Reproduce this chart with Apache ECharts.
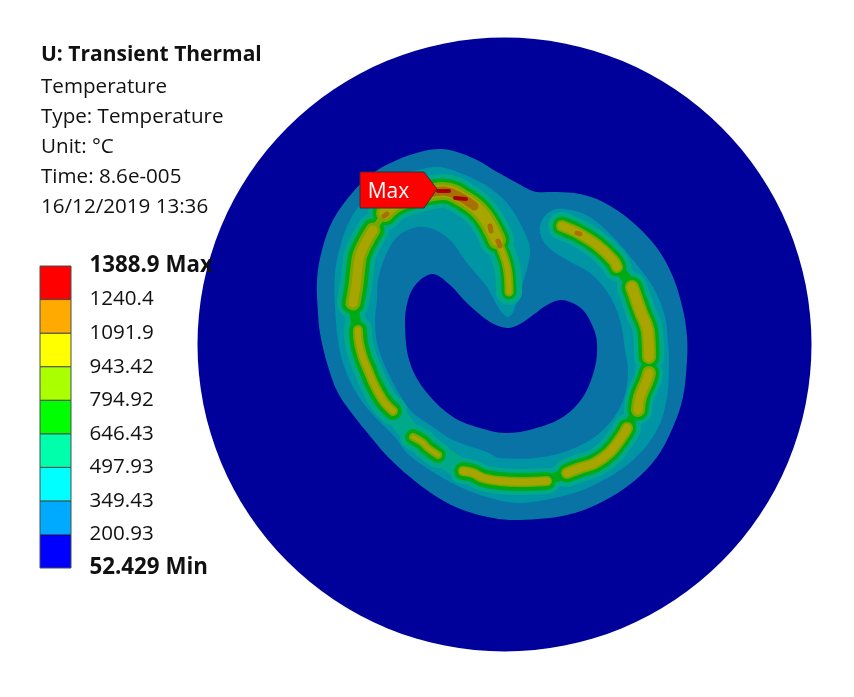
<!DOCTYPE html>
<html>
<head>
<meta charset="utf-8">
<style>html,body{margin:0;padding:0;background:#fff}#chart{width:854px;height:697px}</style>
<script src="https://cdn.jsdelivr.net/npm/echarts@6/dist/echarts.min.js"></script>
</head>
<body>
<div id="chart"></div>
<script>
// colour bar
const levels = [52.429, 200.93, 349.43, 497.93, 646.43, 794.92, 943.42, 1091.9, 1240.4, 1388.9];
const levelLabels = ['52.429 Min', '200.93', '349.43', '497.93', '646.43', '794.92', '943.42', '1091.9', '1240.4', '1388.9 Max'];
const barColors = ['#0000ff', '#00aaff', '#00ffff', '#00ffaa', '#00ff00', '#aaff00', '#ffff00', '#ffaa00', '#ff0000'];
// same scale as the bar, shaded the way the model is lit
const shaded = ['#00009b', '#0a73a6', '#0095a4', '#00a98a', '#00aa14', '#78a800', '#a8a500', '#a87000', '#a80000'];

const infoLines = ['Temperature', 'Type: Temperature', 'Unit: °C', 'Time: 8.6e-005', '16/12/2019 13:36'];

// plate: centre x, centre y, radius
const plate = [[504.5, 344.5, 307]];

// isotherm outlines (model plane units)
const iso200 = [[530,190],[517,183],[497,172],[477,160],[457,152],[440,149],[420,152],[397,160],[373,173],[353,192],[333,220],[322,250],[317,280],[318,313],[320,333],[327,363],[338,393],[357,420],[375,442],[388,457],[410,477],[437,497],[463,510],[493,518],[520,520],[567,515],[600,503],[633,482],[657,457],[673,427],[683,397],[687,360],[687,337],[683,310],[673,277],[657,248],[630,220],[603,202],[580,194],[557,192],[537,192]];
const iso200Hole = [[433,274],[417,283],[408,300],[405,325],[410,363],[427,393],[453,417],[480,428],[505,433],[533,429],[563,417],[583,397],[595,367],[597,343],[593,327],[583,310],[570,302],[560,300],[547,305],[533,315],[520,324],[507,328],[490,322],[467,303],[450,285]];
const iso349 = [[490,188],[480,182],[460,173],[440,167],[423,169],[395,177],[367,197],[350,220],[340,247],[335,273],[335,307],[338,340],[343,363],[353,387],[367,408],[383,425],[395,437],[407,453],[430,470],[460,487],[490,498],[520,503],[567,495],[600,482],[633,460],[657,430],[667,397],[669,360],[668,343],[665,317],[653,287],[633,260],[613,237],[590,217],[570,210],[553,210],[542,220],[540,233],[548,247],[567,260],[590,273],[608,293],[620,320],[625,350],[628,373],[622,403],[603,430],[577,447],[543,457],[500,458],[487,452],[453,440],[430,425],[413,413],[403,400],[390,377],[378,347],[375,320],[377,300],[378,280],[385,257],[397,237],[413,228],[430,228],[450,240],[467,263],[487,287],[498,307],[507,317],[512,314],[515,307],[523,283],[530,250],[522,227],[507,203]];

// hot strips along the weld track
const stripTip = [[509,292],[507,267],[497,240]];
const stripCrown = [[497,240],[483,215],[467,201],[443,191],[420,195],[397,203],[385,213]];
const stripWest = [[373,230],[367,240],[360,255],[358,267],[356,285],[353,303]];
const stripLeft = [[358,330],[359,343],[363,358],[368,370],[372,380],[378,392],[385,403],[393,411]];
const stripLower = [[413,437],[422,442],[428,448],[438,455]];
const stripBottom = [[463,471],[473,473],[483,478],[500,481],[520,482],[547,481]];
const stripSouth = [[567,473],[580,468],[595,463],[610,452],[623,435],[627,428]];
const stripEast = [[638,410],[640,397],[647,380],[649,373]];
const stripRight = [[649,357],[648,333],[640,310],[632,287]];
const stripNorth = [[617,267],[613,260],[597,245],[578,233],[562,226]];
const track = [stripTip, stripCrown, stripWest, stripLeft, stripLower, stripBottom, stripSouth, stripEast, stripRight, stripNorth];
// band widths per strip: 497.93, 646.43, 794.92, 943.42
const trackWidths = [[26,15,9,5],[34,25,18,12],[32,23,15,9],[28,18,10,6],[26,16,8,4],[26,18,10,7],[28,19,12,8],[28,21,14,9],[30,21,14,10],[28,19,12,8]];

// joins between strips
const neckCrown = [[385,213],[373,230]];
const neckWest = [[353,303],[357,330]];
const neckLower = [[393,412],[412,435]];
const neckBottom = [[443,457],[463,470]];
const neckSouth = [[547,481],[567,473]];
const neckEast = [[628,427],[637,410]];
const neckRight = [[650,375],[648,360]];
const neckNorth = [[632,285],[618,268]];
const aquaNecks = [neckCrown, neckWest, neckLower, neckBottom, neckSouth, neckEast, neckRight, neckNorth];
const greenNecks = [neckCrown, neckWest, neckSouth, neckEast, neckRight, neckNorth];

const orangeTop = [[430,193],[443,191],[460,197],[474,206]];
const orangeSpots = [[[384,216],[387,214]], [[490,226],[491,231]], [[498,241],[500,246]], [[577,233],[580,234]]];
const redSpotA = [[438,191],[449,191]];
const redSpotB = [[455,198],[466,199]];
const maxFlag = [[360,172],[424,172],[437,189],[424,208],[360,208]];

function outline (name, points, color) {
  return {
    type: 'custom',
    name: name,
    coordinateSystem: 'cartesian2d',
    data: points,
    encode: {x: 0, y: 1},
    silent: true,
    clip: false,
    renderItem: function (params, api) {
      if (params.dataIndex !== 0) return null
      return {
        type: 'polygon',
        shape: {points: points.map(p => api.coord(p)), smooth: 0.35},
        style: {fill: color}
      }
    }
  }
}

function strip (points, color, width) {
  return {
    type: 'line',
    data: points,
    smooth: 0.4,
    symbol: 'none',
    silent: true,
    clip: false,
    lineStyle: {color: color, width: width, cap: 'round', join: 'round'}
  }
}

const series = [
  {
    type: 'custom',
    coordinateSystem: 'cartesian2d',
    data: plate,
    encode: {x: 0, y: 1},
    silent: true,
    renderItem: function (params, api) {
      const c = api.coord([api.value(0), api.value(1)])
      return {type: 'circle', shape: {cx: c[0], cy: c[1], r: api.size([api.value(2), 0])[0]}, style: {fill: shaded[0]}}
    }
  },
  outline('200.93', iso200, shaded[1]),
  outline('hole', iso200Hole, shaded[0]),
  outline('349.43', iso349, shaded[2])
]
aquaNecks.forEach(s => series.push(strip(s, shaded[3], 20)))
track.forEach((s, i) => series.push(strip(s, shaded[3], trackWidths[i][0])))
greenNecks.forEach(s => series.push(strip(s, shaded[4], 10)))
track.forEach((s, i) => series.push(strip(s, shaded[4], trackWidths[i][1])))
series.push(strip(neckCrown, shaded[5], 6))
track.forEach((s, i) => series.push(strip(s, shaded[5], trackWidths[i][2])))
track.forEach((s, i) => series.push(strip(s, shaded[6], trackWidths[i][3])))
series.push(strip(orangeTop, shaded[7], 9))
orangeSpots.forEach(s => series.push(strip(s, shaded[7], 5)))
series.push(strip(redSpotA, shaded[8], 4))
series.push(strip(redSpotB, shaded[8], 4))

// max flag
series.push({
  type: 'custom',
  coordinateSystem: 'cartesian2d',
  data: maxFlag,
  encode: {x: 0, y: 1},
  silent: true,
  z: 5,
  renderItem: function (params, api) {
    if (params.dataIndex !== 0) return null
    const pts = maxFlag.map(p => api.coord(p))
    return {
      type: 'polygon',
      shape: {points: pts},
      style: {fill: '#ff0000', stroke: '#333', lineWidth: 1},
      textContent: {
        type: 'text',
        style: {text: 'Max', fill: '#fff', font: '21px "Open Sans"'}
      },
      textConfig: {position: 'inside', offset: [-10, 2]}
    }
  }
})

// colour bar blocks
const barBands = barColors.map((c, i) => [levels[i], levels[i + 1]])
series.push({
  type: 'custom',
  xAxisIndex: 1,
  yAxisIndex: 1,
  coordinateSystem: 'cartesian2d',
  data: barBands,
  encode: {y: [0, 1]},
  silent: true,
  renderItem: function (params, api) {
    const a = api.coord([0, api.value(1)])
    const b = api.coord([1, api.value(0)])
    return {
      type: 'rect',
      shape: {x: a[0], y: a[1], width: b[0] - a[0], height: b[1] - a[1]},
      style: {fill: barColors[params.dataIndex], stroke: '#44504a', lineWidth: 1}
    }
  }
})

// colour bar labels
series.push({
  type: 'scatter',
  xAxisIndex: 1,
  yAxisIndex: 1,
  symbolSize: 1,
  itemStyle: {color: 'rgba(0,0,0,0)', opacity: 1},
  silent: true,
  z: 6,
  data: levels.map((v, i) => {
    const strong = i === 0 || i === levels.length - 1
    return {
      value: [1, v],
      label: {
        show: true,
        position: 'right',
        distance: 18,
        formatter: levelLabels[i],
        color: '#111',
        fontFamily: 'Open Sans',
        fontSize: strong ? 22.3 : 20.6,
        fontWeight: strong ? 'bold' : 'normal'
      }
    }
  })
})

const option = {
  animation: false,
  backgroundColor: '#fff',
  title: [
    {text: 'U: Transient Thermal', left: 36, top: 40, textStyle: {fontFamily: 'Open Sans', fontSize: 21, fontWeight: 'bold', color: '#111'}},
    {text: infoLines.join('\n'), left: 36, top: 67, textStyle: {fontFamily: 'Open Sans', fontSize: 20.6, fontWeight: 'normal', color: '#111', lineHeight: 30}}
  ],
  grid: [
    {left: 0, top: 0, width: 854, height: 697},
    {left: 40, top: 266, width: 31, height: 302}
  ],
  xAxis: [
    {type: 'value', min: 0, max: 854, show: false},
    {type: 'value', gridIndex: 1, min: 0, max: 1, show: false}
  ],
  yAxis: [
    {type: 'value', min: 0, max: 697, inverse: true, show: false},
    {type: 'value', gridIndex: 1, min: 52.429, max: 1388.9, show: false}
  ],
  series: series
}

const chart = echarts.init(document.getElementById('chart'))
chart.setOption(option)
</script>
</body>
</html>
